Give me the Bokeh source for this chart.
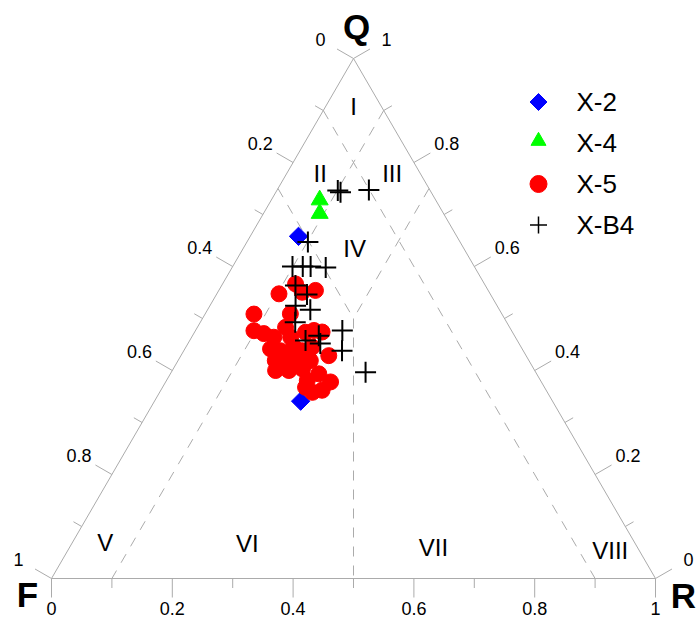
import numpy as np
from bokeh.plotting import figure
from bokeh.models import Range1d
from bokeh.core.properties import value
from bokeh.embed import file_html
from bokeh.resources import INLINE

# ---------------- data (percent Q, F, R) ----------------
x2_Q = [65.8, 34.1]
x2_F = [26.2, 41.7]
x2_R = [8.0, 24.2]

x4_Q = [72.8, 70.2]
x4_F = [19.2, 20.5]
x4_R = [8.0, 9.3]

x5_Q = [54.8, 56.7, 55.1, 55.4, 50.9, 50.9, 47.7, 47.1, 46.4, 48.3, 46.4, 47.4, 47.7,
        47.4, 44.2, 43.8, 44.5, 43.8, 44.5, 42.9, 41.9, 42.3, 42.3, 41.9, 40.0, 40.0,
        40.3, 38.1, 39.4, 37.8, 35.8, 36.2, 36.8]
x5_F = [35.0, 31.3, 31.0, 28.6, 41.1, 35.0, 42.7, 41.3, 40.0, 37.1, 37.2, 34.3, 32.7,
        31.5, 41.7, 40.2, 37.6, 36.6, 34.6, 32.7, 42.0, 40.1, 38.2, 36.2, 42.9, 40.7,
        38.3, 38.6, 36.1, 34.9, 38.9, 37.1, 39.6]
x5_R = [10.3, 12.1, 14.0, 16.0, 8.1, 14.1, 9.7, 11.6, 13.6, 14.6, 16.4, 18.4, 19.6,
        21.1, 14.2, 16.0, 17.9, 19.6, 20.9, 24.5, 16.1, 17.6, 19.6, 21.9, 17.1, 19.3,
        21.4, 23.3, 24.6, 27.3, 25.3, 26.7, 23.7]

xb4_Q = [74.6, 74.3, 74.8, 64.7, 60.0, 60.0, 60.0, 59.8, 56.3, 54.6, 52.5, 51.7, 49.3,
         47.7, 45.8, 46.7, 45.2, 43.8, 39.7]
xb4_F = [15.3, 15.0, 10.1, 25.2, 30.1, 28.4, 27.1, 24.7, 31.4, 30.4, 33.4, 31.3, 35.0,
         28.0, 35.1, 32.4, 32.9, 30.0, 28.2]
xb4_R = [10.1, 10.7, 15.2, 10.1, 9.9, 11.6, 12.9, 15.5, 12.2, 15.0, 14.2, 17.0, 15.7,
         24.3, 19.2, 20.9, 21.9, 26.2, 32.2]

series_names = ["X-2", "X-4", "X-5", "X-B4"]
tick_values = [0.0, 0.1, 0.2, 0.3, 0.4, 0.5, 0.6, 0.7, 0.8, 0.9, 1.0]
tick_labels = ["0", "", "0.2", "", "0.4", "", "0.6", "", "0.8", "", "1"]

# classification field boundaries (Q, F, R) start -> end
bound_start = [(90, 10, 0), (90, 0, 10), (75, 25, 0), (75, 0, 25), (50, 25, 25)]
bound_end = [(0, 10, 90), (0, 90, 10), (50, 25, 25), (50, 25, 25), (0, 50, 50)]

region_names = ["I", "II", "III", "IV", "V", "VI", "VII", "VIII"]
region_Q = [90.8, 77.8, 77.8, 63.4, 7.0, 6.7, 5.9, 5.4]
region_F = [4.6, 16.6, 4.7, 18.1, 87.6, 64.3, 33.8, 4.8]
region_R = [4.6, 5.6, 17.5, 18.5, 5.4, 29.1, 60.3, 89.9]

# ---------------- geometry ----------------
H = np.sqrt(3) / 2
SX = 604.0            # px per x unit
SY = 520.0 / H        # px per y unit
OX, OY = 51.0, 578.0  # pixel position of F corner
W, HT = 700, 630


def tern(Q, F, R):
    Q = np.asarray(Q, float); F = np.asarray(F, float); R = np.asarray(R, float)
    s = Q + F + R
    q = Q / s; r = R / s
    return r + q / 2, q * H


def dpx(dx, dy):
    """pixel offset (dy positive = up) -> data offset"""
    return dx / SX, dy / SY


p = figure(width=W, height=HT, output_backend="svg", toolbar_location=None,
           x_range=Range1d(-OX / SX, (W - OX) / SX),
           y_range=Range1d(-(HT - OY) / SY, OY / SY),
           x_axis_type=None, y_axis_type=None, min_border=0,
           outline_line_color=None, background_fill_color="white",
           border_fill_color="white")
p.grid.visible = False

AX_COL = "#ababab"
FONT = value("Liberation Sans")

# triangle frame
p.line([0, 1, 0.5, 0], [0, 0, H, 0], line_color=AX_COL, line_width=1)

# ticks and tick labels
MAJ, MIN, LAB = 19, 9.5, 38
c30, s30 = np.cos(np.pi / 6), np.sin(np.pi / 6)
xs0, ys0, xs1, ys1 = [], [], [], []
lx, ly, lt = [], [], []
for t, lab in zip(tick_values, tick_labels):
    L = MAJ if lab else MIN
    # bottom axis (R): 0 at F, 1 at R
    bx, by = t, 0.0
    ox, oy = dpx(0, -L)
    xs0.append(bx); ys0.append(by); xs1.append(bx + ox); ys1.append(by + oy)
    if lab:
        ox, oy = dpx(0, -30)
        lx.append(bx + ox); ly.append(by + oy); lt.append(lab)
    # left axis (F): 0 at Q apex, 1 at F corner
    bx, by = 0.5 - 0.5 * t, H * (1 - t)
    ox, oy = dpx(-c30 * L, s30 * L)
    xs0.append(bx); ys0.append(by); xs1.append(bx + ox); ys1.append(by + oy)
    if lab:
        ox, oy = dpx(-c30 * LAB, s30 * LAB)
        lx.append(bx + ox); ly.append(by + oy); lt.append(lab)
    # right axis (Q): 1 at apex, 0 at R corner
    bx, by = 1 - 0.5 * t, H * t
    ox, oy = dpx(c30 * L, s30 * L)
    xs0.append(bx); ys0.append(by); xs1.append(bx + ox); ys1.append(by + oy)
    if lab:
        ox, oy = dpx(c30 * LAB, s30 * LAB)
        lx.append(bx + ox); ly.append(by + oy); lt.append(lab)

p.segment(xs0, ys0, xs1, ys1, line_color=AX_COL, line_width=1)
p.text(lx, ly, text=lt, text_align="center", text_baseline="middle",
       text_font=FONT, text_font_size="18px", text_color="black")

# corner labels
cx = [0.5, 0.0, 1.0]
cy = [H, 0.0, 0.0]
cdx = [dpx(3, 32), dpx(-24, -16), dpx(28, -17)]
p.text([a + d[0] for a, d in zip(cx, cdx)], [b + d[1] for b, d in zip(cy, cdx)],
       text=["Q", "F", "R"], text_align="center", text_baseline="middle",
       text_font=FONT, text_font_style="bold", text_font_size="35px", text_color="black")

# classification boundaries
sx, sy = tern(*zip(*bound_start))
ex, ey = tern(*zip(*bound_end))
p.segment(sx, sy, ex, ey, line_color=AX_COL, line_width=1, line_dash="10 9")

# region labels
rx, ry = tern(region_Q, region_F, region_R)
p.text(rx, ry, text=region_names, text_align="center", text_baseline="middle",
       text_font=FONT, text_font_size="24px", text_color="black")

# data series
x, y = tern(x2_Q, x2_F, x2_R)
p.scatter(x, y, marker="square", size=13, angle=np.pi / 4, fill_color="#0000ff",
          line_color="#0000ff")
x, y = tern(x4_Q, x4_F, x4_R)
p.scatter(x, y, marker="triangle", size=17, fill_color="#00ff00", line_color="#00ff00")
x, y = tern(x5_Q, x5_F, x5_R)
p.scatter(x, y, marker="circle", size=16, fill_color="#ff0000", line_color="#ff0000")
x, y = tern(xb4_Q, xb4_F, xb4_R)
p.scatter(x, y, marker="cross", size=21, line_color="black", line_width=2)

# legend (drawn manually, position in pixels)
LEG_X, LEG_Y0, LEG_DY, LEG_TX = 538, 101.5, 41, 576


def px2data(px, py):
    return (px - OX) / SX, (OY - py) / SY


leg_rows = [LEG_Y0 + i * LEG_DY for i in range(4)]
mx = [px2data(LEG_X, r)[0] for r in leg_rows]
my = [px2data(LEG_X, r)[1] for r in leg_rows]
p.scatter([mx[0]], [my[0]], marker="square", size=12, angle=np.pi / 4,
          fill_color="#0000ff", line_color="#0000ff")
p.scatter([mx[1]], [my[1] + 2 / SY], marker="triangle", size=15,
          fill_color="#00ff00", line_color="#00ff00")
p.scatter([mx[2]], [my[2]], marker="circle", size=17, fill_color="#ff0000",
          line_color="#ff0000")
p.scatter([mx[3]], [my[3]], marker="cross", size=17, line_color="black", line_width=1.5)
tx = [px2data(LEG_TX, r)[0] for r in leg_rows]
p.text(tx, my, text=series_names, text_align="left", text_baseline="middle",
       text_font=FONT, text_font_size="26px", text_color="black")

open("out.html", "w").write(file_html(p, INLINE))
